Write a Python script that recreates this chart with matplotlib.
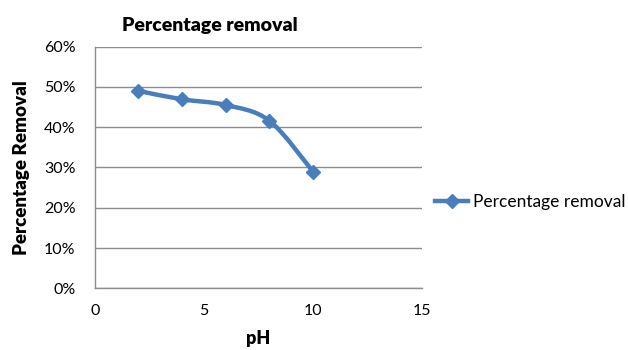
import numpy as np
import matplotlib
matplotlib.use("Agg")
import matplotlib.pyplot as plt
from matplotlib.path import Path
from matplotlib.patches import PathPatch
from matplotlib.lines import Line2D
from matplotlib.ticker import PercentFormatter

# Data
ph = [2, 4, 6, 8, 10]
removal = [49.0, 46.9, 45.5, 41.6, 29.0]
x_ticks = [0, 5, 10, 15]
y_ticks = [0, 10, 20, 30, 40, 50, 60]

blue = "#4a7ebb"
grid_gray = "#8c8c8c"

plt.rcParams["font.family"] = ["Lato", "DejaVu Sans"]


# Smoothed line like Excel: Catmull-Rom converted to cubic Bezier
def smooth_path(xs, ys):
    pts = np.column_stack([xs, ys]).astype(float)
    ext = np.vstack([pts[0], pts, pts[-1]])
    verts = [pts[0]]
    codes = [Path.MOVETO]
    for i in range(1, len(ext) - 2):
        p0, p1, p2, p3 = ext[i - 1], ext[i], ext[i + 1], ext[i + 2]
        c1 = p1 + (p2 - p0) / 6.0
        c2 = p2 - (p3 - p1) / 6.0
        verts += [c1, c2, p2]
        codes += [Path.CURVE4] * 3
    return Path(verts, codes)


fig = plt.figure(figsize=(6.28, 3.5), dpi=100)
ax = fig.add_axes([0.151, 0.176, 0.521, 0.691])

ax.add_patch(PathPatch(smooth_path(ph, removal), fill=False,
                       edgecolor=blue, linewidth=3.2, capstyle="round",
                       joinstyle="round", zorder=3))
ax.plot(ph, removal, linestyle="none", marker="D", markersize=7.5,
        color=blue, zorder=4)

ax.set_xlim(0, 15)
ax.set_ylim(0, 60)
ax.set_xticks(x_ticks)
ax.set_yticks(y_ticks)
ax.yaxis.set_major_formatter(PercentFormatter(decimals=0))
ax.tick_params(length=0, labelsize=11.5, pad=14)
ax.tick_params(axis="x", pad=11)
ax.grid(axis="y", color=grid_gray, linewidth=1.0)
ax.set_axisbelow(True)
for side in ["top", "right"]:
    ax.spines[side].set_visible(False)
for side in ["left", "bottom"]:
    ax.spines[side].set_color(grid_gray)
    ax.spines[side].set_linewidth(1.0)

ax.set_xlabel("pH", fontsize=13, fontweight="heavy", labelpad=9)
ax.set_ylabel("Percentage Removal", fontsize=13.5, fontweight="heavy", labelpad=10)
fig.text(0.334, 0.928, "Percentage removal", fontsize=14, fontweight="heavy",
         ha="center", va="center")

handle = Line2D([], [], color=blue, linewidth=3.2, marker="D", markersize=7.5)
fig.legend([handle], ["Percentage removal"], loc="center left",
           bbox_to_anchor=(0.693, 0.424), frameon=False, fontsize=12.5,
           handlelength=1.9, handletextpad=0.3, borderpad=0, borderaxespad=0)

fig.savefig("out.png", dpi=100)
